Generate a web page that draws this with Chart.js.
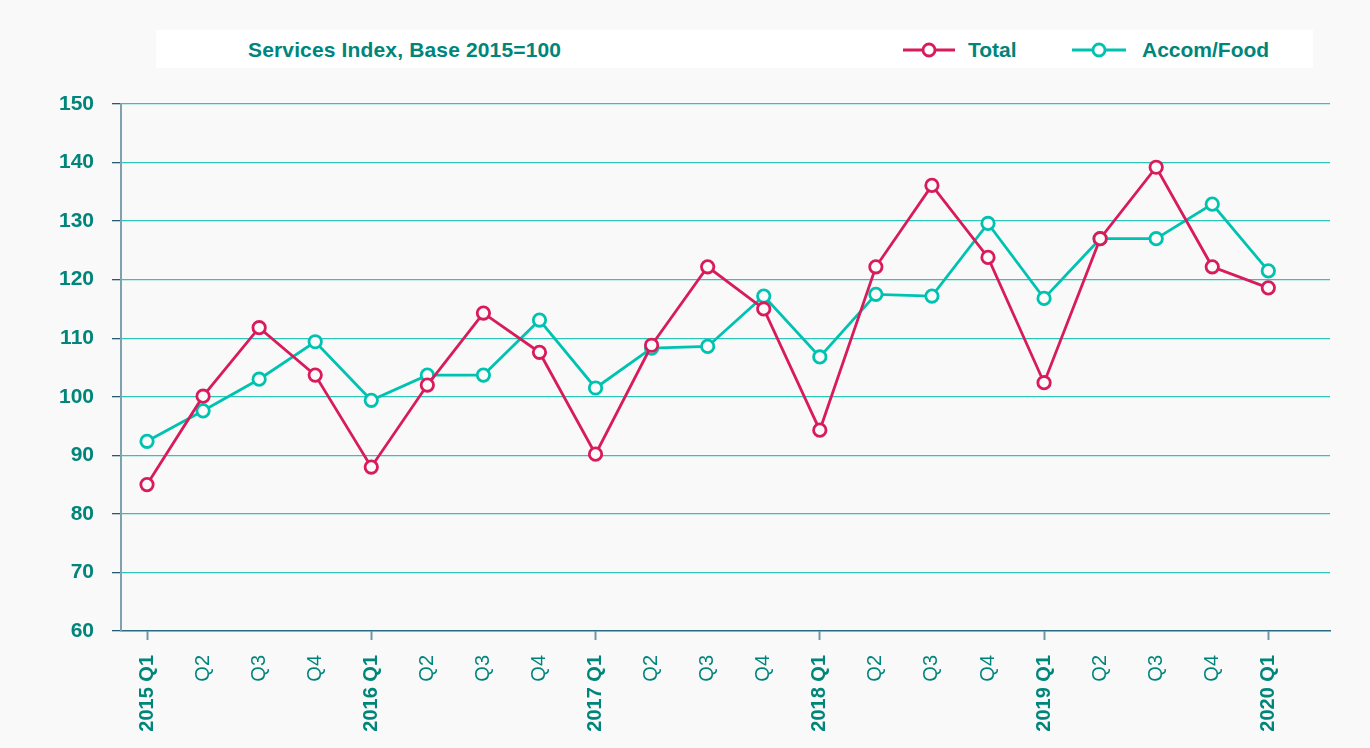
<!DOCTYPE html>
<html>
<head>
<meta charset="utf-8">
<script src="https://cdn.jsdelivr.net/npm/chart.js@4.4.1/dist/chart.umd.min.js"></script>
<style>
  html, body { margin: 0; padding: 0; background: #ffffff; }
  #wrap { position: relative; width: 1370px; height: 748px; background: #f9f9f9; overflow: hidden; }
  #chart { position: absolute; left: 0; top: 0; }
  #head { position: absolute; left: 156px; top: 30px; width: 1157px; height: 38px; background: #ffffff;
          font-family: "Liberation Sans", Arial, sans-serif; font-weight: bold; font-size: 21px; color: #00857a; }
  #title { position: absolute; left: 92px; top: 8px; white-space: nowrap; letter-spacing: 0.15px; }
  .leg { position: absolute; top: 8px; white-space: nowrap; }
  .leg svg { position: absolute; top: 4px; }
  .leg span { position: absolute; top: 0; }
</style>
</head>
<body>
<div id="wrap">
  <canvas id="chart" width="1370" height="748"></canvas>
  <div id="head">
    <div id="title">Services Index, Base 2015=100</div>
    <div class="leg" style="left:747px;">
      <svg width="54" height="16" style="left:0"><line x1="0" y1="8" x2="52" y2="8" stroke="#d81b5a" stroke-width="2.8"/><circle cx="26" cy="8" r="6" fill="#ffffff" stroke="#d81b5a" stroke-width="2.8"/></svg>
      <span style="left:65px">Total</span>
    </div>
    <div class="leg" style="left:916px;">
      <svg width="56" height="16" style="left:0"><line x1="0" y1="8" x2="54" y2="8" stroke="#00c2b0" stroke-width="2.8"/><circle cx="27" cy="8" r="6" fill="#ffffff" stroke="#00c2b0" stroke-width="2.8"/></svg>
      <span style="left:70px">Accom/Food</span>
    </div>
  </div>
</div>
<script>
const quarterLabels = ["2015 Q1","Q2","Q3","Q4","2016 Q1","Q2","Q3","Q4","2017 Q1","Q2","Q3","Q4","2018 Q1","Q2","Q3","Q4","2019 Q1","Q2","Q3","Q4","2020 Q1"];
const totalValues = [85, 100.1, 111.8, 103.7, 88, 102, 114.3, 107.6, 90.2, 108.8, 122.2, 115, 94.3, 122.2, 136.1, 123.8, 102.4, 127, 139.2, 122.2, 118.6];
const accomValues = [92.4, 97.6, 103, 109.4, 99.4, 103.7, 103.7, 113.1, 101.5, 108.3, 108.6, 117.2, 106.8, 117.5, 117.2, 129.6, 116.8, 127, 127, 132.9, 121.5];
const yTicks = [60, 70, 80, 90, 100, 110, 120, 130, 140, 150];

const TEXT = "#00857a";
const toPts = arr => arr.map((v, i) => ({ x: i, y: v }));

new Chart(document.getElementById("chart"), {
  type: "line",
  data: {
    datasets: [
      { label: "Total", data: toPts(totalValues), borderColor: "#d81b5a", backgroundColor: "#fbfbfb",
        borderWidth: 2.8, pointRadius: 6.2, pointBorderWidth: 2.8, pointBackgroundColor: "#fbfbfb", tension: 0 },
      { label: "Accom/Food", data: toPts(accomValues), borderColor: "#00c2b0", backgroundColor: "#fbfbfb",
        borderWidth: 2.8, pointRadius: 6.2, pointBorderWidth: 2.8, pointBackgroundColor: "#fbfbfb", tension: 0 }
    ]
  },
  options: {
    responsive: false,
    animation: false,
    layout: { padding: { left: 0, right: 40, top: 104, bottom: 0 } },
    plugins: { legend: { display: false }, title: { display: false }, tooltip: { enabled: false } },
    scales: {
      x: {
        type: "linear",
        min: -0.464,
        max: 21.1,
        afterBuildTicks: axis => { axis.ticks = quarterLabels.map((l, i) => ({ value: i })); },
        afterFit: axis => { axis.height = 117; },
        border: { display: true, color: "#2a6a80", width: 1.5 },
        grid: {
          drawOnChartArea: false,
          drawTicks: true,
          tickLength: 9,
          tickColor: ctx => (ctx.tick && ctx.tick.value % 4 === 0) ? "#6f97a6" : "rgba(0,0,0,0)",
          tickWidth: 2
        },
        ticks: {
          autoSkip: false,
          minRotation: 90,
          maxRotation: 90,
          padding: 15,
          color: TEXT,
          font: ctx => ({ family: "'Liberation Sans', Arial, sans-serif", size: 20,
                          weight: (ctx.tick && ctx.tick.value % 4 === 0) ? "bold" : "normal" }),
          callback: v => quarterLabels[v] ?? ""
        }
      },
      y: {
        min: 60,
        max: 150,
        afterBuildTicks: axis => { axis.ticks = yTicks.map(v => ({ value: v })); },
        afterFit: axis => { axis.width = 121; },
        border: { display: true, color: "#7fa1ae", width: 2 },
        grid: {
          color: ctx => (ctx.tick && ctx.tick.value === 60) ? "rgba(0,0,0,0)" : "#2cc6b6",
          lineWidth: 1.3,
          tickColor: "#2a5a70",
          tickLength: 9
        },
        ticks: {
          padding: 18,
          color: TEXT,
          font: { family: "'Liberation Sans', Arial, sans-serif", size: 21, weight: "bold" }
        }
      }
    }
  }
});
</script>
</body>
</html>
